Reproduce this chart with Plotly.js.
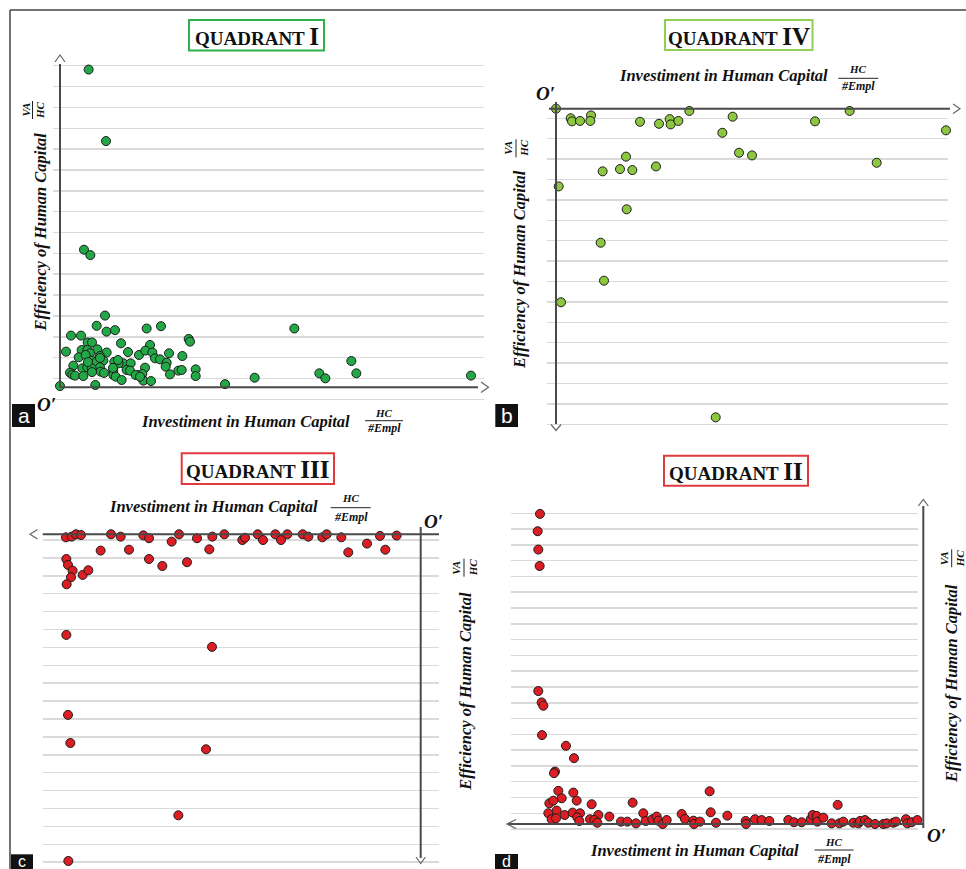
<!DOCTYPE html>
<html><head><meta charset="utf-8">
<script src="https://cdn.plot.ly/plotly-3.0.1.min.js"></script>
<style>html,body{margin:0;padding:0;background:#fff}#chart{width:966px;height:869px}</style>
</head><body><div id="chart"></div>
<script>
// Quadrant I (panel a): investment vs efficiency, both positive
const q1X=[6.76,10.85,5.66,7.15,10.61,8.65,10.97,12.97,20.44,23.82,55.27,2.59,4.95,6.53,7.55,14.39,30.35,30.66,21.23,1.42,5.11,6.45,8.81,11.01,7.08,9.43,4.40,6.05,18.63,20.13,21.78,25.71,28.85,22.41,23.58,68.71,7.55,10.22,8.65,12.81,14.94,16.67,13.84,25.16,3.14,5.27,6.45,9.43,7.47,24.92,15.72,20.05,16.51,27.91,28.70,32.0,2.36,2.91,3.54,5.50,9.59,12.58,12.58,13.13,18.24,19.42,25.94,32.0,61.16,62.58,69.89,96.93,45.91,14.54,19.65,21.46,0,8.33,38.92,17.85,18.87,12.5,10.38,7.55,6.60,9.43,13.68,16.04];
const q1Y=[15.24,11.81,6.60,6.34,3.44,2.95,2.67,2.74,2.82,2.93,2.82,2.48,2.48,2.15,2.15,2.11,2.32,2.19,2.03,1.71,1.79,1.79,1.82,1.67,1.63,1.50,1.44,1.55,1.55,1.76,1.67,1.63,1.50,1.39,1.34,1.26,1.28,1.28,1.23,1.22,1.15,1.15,1.15,1.18,1.04,0.91,0.96,0.96,0.91,0.99,0.83,0.94,0.80,0.80,0.83,0.86,0.70,0.61,0.56,0.54,0.75,0.80,0.59,0.51,0.59,0.64,0.62,0.54,0.67,0.43,0.67,0.56,0.46,0.35,0.32,0.30,0.06,0.11,0.15,0.59,0.51,0.93,0.69,0.73,1.21,1.41,1.31,1.69];
// Quadrant IV (panel b)
const q4X=[0,3.72,4.06,6.09,8.88,8.71,21.32,26.14,28.85,29.10,31.05,33.84,42.22,44.84,65.74,74.53,98.98,46.45,49.75,81.39,17.77,11.84,16.24,19.37,25.38,0.68,17.94,11.34,12.18,1.27,40.53];
const q4Y=[0,-0.47,-0.62,-0.60,-0.33,-0.60,-0.64,-0.74,-0.51,-0.77,-0.60,-0.11,-1.18,-0.39,-0.62,-0.11,-1.06,-2.16,-2.29,-2.65,-2.35,-3.07,-2.96,-3.01,-2.83,-3.81,-4.93,-6.57,-8.43,-9.49,-15.13];
// Quadrant III (panel c)
const q3X=[-93.83,-92.33,-91.18,-89.86,-81.92,-79.36,-73.37,-71.87,-65.87,-63.93,-59.17,-55.11,-51.94,-47.18,-46.47,-43.12,-41.71,-38.45,-36.95,-35.27,-31.22,-29.72,-26.02,-24.87,-20.99,-10.76,-6.35,-84.66,-77.16,-55.91,-19.15,-14.20,-9.35,-71.87,-68.34,-61.82,-93.74,-93.30,-92.07,-92.51,-89.42,-87.92,-93.65,-93.74,-55.20,-93.30,-92.68,-56.79,-64.11,-93.21];
const q3Y=[-0.17,-0.13,0,-0.04,0,-0.13,-0.06,-0.22,-0.41,0,-0.22,-0.13,0,-0.32,-0.19,0,-0.32,0,-0.32,0,0,-0.13,-0.17,0,-0.17,-0.09,-0.07,-0.91,-0.86,-0.84,-1.01,-0.52,-0.86,-1.38,-1.77,-1.56,-1.38,-1.71,-2.03,-2.40,-2.27,-2.01,-2.79,-5.62,-6.29,-10.09,-11.66,-12.01,-15.70,-18.25];
// Quadrant II (panel d)
const q2X=[-91.71,-92.26,-92.11,-91.79,-92.11,-91.31,-90.91,-91.23,-85.49,-83.57,-88.12,-88.36,-87.32,-83.73,-86.52,-89.47,-88.52,-82.93,-79.35,-69.54,-51.12,-20.49,-89.71,-87.72,-85.81,-83.89,-82.14,-88.91,-87.88,-82.78,-82.30,-79.74,-77.75,-78.71,-77.99,-75.12,-72.33,-70.81,-68.74,-66.99,-66.43,-64.83,-63.80,-63.40,-62.36,-61.40,-57.81,-57.02,-55.02,-54.86,-53.43,-50.88,-49.60,-46.89,-42.50,-42.42,-40.27,-38.68,-36.84,-32.30,-30.94,-29.11,-26.95,-26.47,-25.52,-25.36,-23.92,-21.93,-20.10,-19.14,-16.75,-15.55,-15.15,-13.96,-13.16,-11.56,-9.57,-8.77,-7.18,-6.54,-4.15,-3.83,-2.79,-1.44,0];
const q2Y=[19.64,18.54,17.38,16.34,8.42,7.70,7.49,5.63,4.95,4.17,3.32,3.22,2.10,1.99,1.63,1.31,1.48,1.48,1.25,1.35,2.07,1.21,0.68,0.85,0.57,0.72,0.68,0.30,0.36,0.42,0.19,0.30,0.57,0.25,0.08,0.47,0.15,0.15,0.04,0.68,0.19,0.30,0.47,0.21,0,0.25,0.63,0.32,0.21,0,0.15,0.74,0.08,0.53,0.19,0,0.30,0.25,0.19,0.25,0.11,0.11,0.30,0.57,0.51,0.15,0.40,0.04,0.04,0.15,0.08,0.04,0.19,0.25,0.08,0,0,0.04,0.08,0.15,0.30,0.04,0.11,0.25,0];

const titles=['QUADRANT |I','QUADRANT |IV','QUADRANT |III','QUADRANT |II'];
const xLabel='Investiment in Human Capital';
const yLabel='Efficiency of Human Capital';

const W=966,H=869;
const fx=p=>p/W, fy=p=>1-p/H;
const SERIF='Liberation Serif, Times New Roman, serif';

const panels=[
 {X:q1X,Y:q1Y,color:'#22a846',ox:60,oy:387.3,sx:4.24,sy:20.85,xd:[53,484],yd:[60,402],t0:-0.576},
 {X:q4X,Y:q4Y,color:'#8dc73f',ox:556,oy:108.7,sx:3.94,sy:20.4,xd:[547,948],yd:[100,428],t0:-0.47},
 {X:q3X,Y:q3Y,color:'#dc1e24',ox:420.67,oy:534.3,sx:3.78,sy:17.9,xd:[42.7,439.3],yd:[531,866],t0:-0.318},
 {X:q2X,Y:q2Y,color:'#dc1e24',ox:923.33,oy:824,sx:4.18,sy:15.79,xd:[510.7,918.3],yd:[510,832],t0:0.678}
];

const data=[], layout={width:W,height:H,margin:{l:0,r:0,t:0,b:0},paper_bgcolor:'#fff',plot_bgcolor:'rgba(0,0,0,0)',showlegend:false,shapes:[],annotations:[]};
panels.forEach((p,i)=>{
  const n=i===0?'':String(i+1);
  layout['xaxis'+n]={domain:[fx(p.xd[0]),fx(p.xd[1])],range:[(p.xd[0]-p.ox)/p.sx,(p.xd[1]-p.ox)/p.sx],showgrid:false,zeroline:false,showticklabels:false,ticks:'',showline:false,anchor:'y'+n,fixedrange:true};
  layout['yaxis'+n]={domain:[fy(p.yd[1]),fy(p.yd[0])],range:[(p.oy-p.yd[1])/p.sy,(p.oy-p.yd[0])/p.sy],showgrid:true,gridcolor:'#dadada',gridwidth:1.5,tickmode:'linear',tick0:p.t0,dtick:1,zeroline:false,showticklabels:false,ticks:'',showline:false,anchor:'x'+n,fixedrange:true};
  data.push({type:'scatter',mode:'markers',x:p.X,y:p.Y,xaxis:'x'+n,yaxis:'y'+n,cliponaxis:false,hoverinfo:'skip',
    marker:{size:9,color:p.color,line:{color:'#1c1c1c',width:1}}});
});

const S=layout.shapes, A=layout.annotations;
function line(x0,y0,x1,y1,c,w){S.push({type:'line',xref:'paper',yref:'paper',x0:fx(x0),y0:fy(y0),x1:fx(x1),y1:fy(y1),line:{color:c||'#4a4a4a',width:w||2}});}
function path(pts,c,w){S.push({type:'path',xref:'paper',yref:'paper',path:'M '+pts.map(q=>fx(q[0])+','+fy(q[1])).join(' L '),line:{color:c||'#666',width:w||1.2}});}
function rect(x0,y0,x1,y1,c,fill,w){S.push({type:'rect',xref:'paper',yref:'paper',x0:fx(x0),y0:fy(y0),x1:fx(x1),y1:fy(y1),line:{color:c,width:w===undefined?2:w},fillcolor:fill||'rgba(0,0,0,0)'});}
function ann(t,x,y,o){A.push(Object.assign({text:t,x:fx(x),y:fy(y),xref:'paper',yref:'paper',showarrow:false,xanchor:'center',yanchor:'middle',font:{family:SERIF,size:16,color:'#111'}},o||{}));}

// outer frame
line(10,10,966,10,'#444',1.5); line(10,10,10,869,'#444',1.5);

// axes and arrows
line(60,387.3,478,387.3); line(60,387.3,60,64);
path([[55,62],[60,55],[65,62]]); path([[481,382],[488.5,387.3],[481,392.5]]);
line(549,108.7,950,108.7); line(556,102,556,424);
path([[953,104],[960,108.7],[953,113.4]]); path([[551,424.5],[556,430.5],[561,424.5]]);
line(42.7,534.3,439,534.3); line(420.7,527,420.7,858);
path([[37.5,529.5],[30,534.3],[37.5,539]]); path([[416,857],[420.7,863.5],[425.4,857]]);
line(508,824,923.3,824); line(923.3,506,923.3,828);
path([[516,819.5],[507,824],[516,828.5]]); path([[918.3,506],[923.3,499.5],[928.3,506]]);

// title boxes
function title(t,x0,y0,x1,y1,c){rect(x0,y0,x1,y1,c,'#fff',2);const s=t.split('|');
  ann('<b>'+s[0]+'<span style="font-size:25px">'+s[1]+'</span></b>',(x0+x1)/2,(y0+y1)/2+1,{font:{family:SERIF,size:19,color:'#111'}});}
title(titles[0],189,20,324,50.5,'#2fb04a');
title(titles[1],665,20,812.5,50,'#8fd055');
title(titles[2],181.7,453.3,334,484,'#e03a3e');
title(titles[3],664,455.7,808,485.7,'#e03a3e');

// x labels with fractions
function xlab(cx,cy,fcx,fy1,fline,fy2,fw){
  ann('<b><i>'+xLabel+'</i></b>',cx,cy,{font:{family:SERIF,size:16.5,color:'#111'}});
  ann('<b><i>HC</i></b>',fcx,fy1,{font:{family:SERIF,size:11,color:'#111'}});
  line(fcx-fw/2,fline,fcx+fw/2,fline,'#222',1);
  ann('<b><i>#Empl</i></b>',fcx,fy2,{font:{family:SERIF,size:12,color:'#111'}});
}
xlab(245.7,421.7,384,412.5,420.7,428,38);
xlab(723.3,76,858.3,68.5,78.3,86.5,40);
xlab(213.3,506,350.7,498.5,507.7,516.5,40);
xlab(694,850.7,834,841.5,850,858.8,39);

// y labels with fractions (rotated)
function ylab(cx,cy,vx,lx,hx,fcy,fh){
  ann('<b><i>'+yLabel+'</i></b>',cx,cy,{textangle:-90,font:{family:SERIF,size:16.5,color:'#111'}});
  ann('<b><i>VA</i></b>',vx,fcy,{textangle:-90,font:{family:SERIF,size:11,color:'#111'}});
  line(lx,fcy-fh/2,lx,fcy+fh/2,'#222',1);
  ann('<b><i>HC</i></b>',hx,fcy,{textangle:-90,font:{family:SERIF,size:11,color:'#111'}});
}
ylab(40.7,231.7,25.5,32.5,40,110,18);
ylab(520,270,508.5,516,524.5,148.3,18);
ylab(466,691.7,456,464,472.5,567.7,18);
ylab(951.7,683.3,944,951.7,960,558.3,18);

// origin labels
[[46.7,404],[545,93.5],[433.3,521],[936.7,835.5]].forEach(q=>ann("<b><i>O′</i></b>",q[0],q[1],{font:{family:SERIF,size:19,color:'#111'}}));

// panel letters
[['a',12,404,35,427,21,415],['b',495.3,404,518,427,21,415],['c',11,854.3,33,869,16,861],['d',495,854,518,869,16,861]].forEach(q=>{
  rect(q[1],q[2],q[3],q[4],'#111','#111',0);
  ann(q[0],(q[1]+q[3])/2,q[6],{font:{family:'Liberation Sans, Arial, sans-serif',size:q[5],color:'#fff'}});
});

Plotly.newPlot('chart',data,layout,{staticPlot:true,displayModeBar:false});
</script></body></html>
